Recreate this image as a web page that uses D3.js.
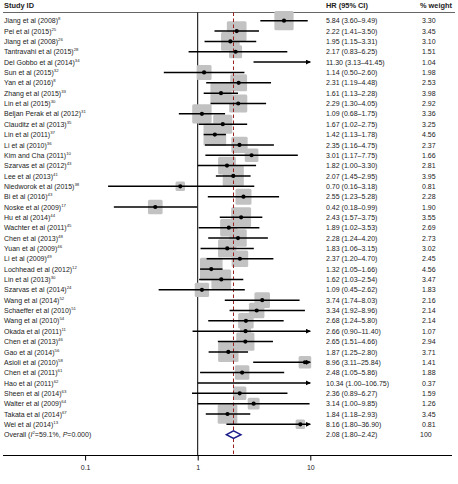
<!DOCTYPE html>
<html>
<head>
<meta charset="utf-8">
<script src="https://cdn.jsdelivr.net/npm/d3@7"></script>
<style>
  body { margin: 0; background: #fff; }
  svg text { font-family: "Liberation Sans", Arial, sans-serif; fill: #222; }
</style>
</head>
<body>
<svg id="forest" width="458" height="484"></svg>
<script>
// study data
const studies = ['Jiang et al (2008)', 'Pei et al (2015)', 'Jiang et al (2008)', 'Tantravahi et al (2015)',
    'Del Gobbo et al (2014)', 'Sun et al (2015)', 'Yan et al (2016)', 'Zhang et al (2015)', 'Lin et al (2015)',
    'Beljan Perak et al (2012)', 'Clauditz et al (2013)', 'Lin et al (2011)', 'Li et al (2010)', 'Kim and Cha (2011)',
    'Szarvas et al (2012)', 'Lee et al (2013)', 'Niedworok et al (2015)', 'Bi et al (2016)', 'Noske et al (2009)',
    'Hu et al (2014)', 'Wachter et al (2011)', 'Chen et al (2013)', 'Yuan et al (2009)', 'Li et al (2009)',
    'Lochhead et al (2012)', 'Lin et al (2013)', 'Szarvas et al (2014)', 'Wang et al (2014)', 'Schaeffer et al (2010)',
    'Wang et al (2010)', 'Okada et al (2011)', 'Chen et al (2013)', 'Gao et al (2014)', 'Asioli et al (2010)',
    'Chen et al (2011)', 'Hao et al (2011)', 'Sheen et al (2014)', 'Walter et al (2009)', 'Takata et al (2014)',
    'Wei et al (2014)'];
const refs = ['8', '25', '26', '28', '34', '32', '8', '33', '30', '31', '35', '37', '36', '10', '43', '41', '38', '43',
    '17', '44', '45', '48', '46', '49', '12', '30', '24', '52', '51', '54', '11', '46', '56', '58', '61', '62', '63',
    '64', '67', '13'];
const hr = [5.84, 2.22, 1.95, 2.17, 11.30, 1.14, 2.31, 1.61, 2.29, 1.09, 1.67, 1.42, 2.35, 3.01, 1.82, 2.07, 0.70,
    2.55, 0.42, 2.43, 1.89, 2.28, 1.83, 2.37, 1.32, 1.62, 1.09, 3.74, 3.34, 2.68, 2.66, 2.65, 1.87, 8.96, 2.48, 10.34,
    2.36, 3.14, 1.84, 8.16];
const lower = [3.60, 1.41, 1.15, 0.83, 3.13, 0.50, 1.19, 1.13, 1.30, 0.68, 1.02, 1.13, 1.16, 1.17, 1.00, 1.45, 0.16,
    1.23, 0.18, 1.57, 1.02, 1.24, 1.06, 1.20, 1.05, 1.03, 0.45, 1.74, 1.92, 1.24, 0.90, 1.51, 1.25, 3.11, 1.05, 1.00,
    0.89, 1.00, 1.18, 1.80];
const upper = [9.49, 3.50, 3.31, 6.25, 41.45, 2.60, 4.48, 2.28, 4.05, 1.75, 2.75, 1.78, 4.75, 7.75, 3.30, 2.95, 3.18,
    5.28, 0.99, 3.75, 3.53, 4.20, 3.15, 4.70, 1.66, 2.54, 2.62, 8.03, 8.96, 5.80, 11.40, 4.66, 2.80, 25.84, 5.86,
    106.75, 6.27, 9.85, 2.93, 36.90];
const weights = [3.30, 3.45, 3.10, 1.51, 1.04, 1.98, 2.53, 3.98, 2.92, 3.36, 3.25, 4.56, 2.37, 1.66, 2.81, 3.95, 0.81,
    2.28, 1.90, 3.55, 2.69, 2.73, 3.02, 2.45, 4.56, 3.47, 1.83, 2.16, 2.14, 2.14, 1.07, 2.94, 3.71, 1.41, 1.88, 0.37,
    1.59, 1.26, 3.45, 0.81];
const overall = { hr: 2.08, lower: 1.80, upper: 2.42, i2: '59.1%', p: '0.000' };
const ticks = [0.1, 1, 10];

const svg = d3.select('#forest');

let x = d3.scaleLog()
          .domain([0.1, 10])
          .range([85.1, 310.3]);

let y = d3.scaleLinear()
          .domain([0, 1])
          .range([20.7, 31.05]);

let axisY = 455.5;
let topY = 12.5;
let xMax = x(10);
let fmt = d3.format('.2f');

// arrowhead for intervals running past 10
svg.append('defs')
   .append('marker')
   .attr('id', 'arrow')
   .attr('viewBox', '0 0 10 10')
   .attr('refX', 9)
   .attr('refY', 5)
   .attr('markerWidth', 3.4)
   .attr('markerHeight', 3.4)
   .attr('orient', 'auto')
   .append('path')
   .attr('d', 'M0,0 L10,5 L0,10 z')
   .attr('fill', '#000');

// header
let header = svg.append('g').attr('font-weight', 'bold').attr('font-size', '7.4px');
header.append('text').attr('x', 4).attr('y', 8).text('Study ID');
header.append('text').attr('x', 326).attr('y', 8).text('HR (95% CI)');
header.append('text').attr('x', 420).attr('y', 8).text('% weight');

svg.append('line')
   .attr('x1', 3).attr('x2', 455)
   .attr('y1', topY).attr('y2', topY)
   .attr('stroke', '#666')
   .attr('stroke-width', 1);

// null line at HR = 1
svg.append('line')
   .attr('x1', x(1)).attr('x2', x(1))
   .attr('y1', topY).attr('y2', axisY)
   .attr('stroke', '#000')
   .attr('stroke-width', 1);

let rows = studies.map((s, i) => ({ name: s, ref: refs[i], hr: hr[i], lo: lower[i], hi: upper[i], w: weights[i], i: i }));
let visible = rows.filter(d => d.hr <= 10);

// weight boxes
svg.append('g')
   .selectAll('rect')
   .data(visible)
   .enter()
   .append('rect')
   .attr('x', d => x(d.hr) - 5.3 * Math.sqrt(d.w))
   .attr('y', d => y(d.i) - 5.3 * Math.sqrt(d.w))
   .attr('width', d => 10.6 * Math.sqrt(d.w))
   .attr('height', d => 10.6 * Math.sqrt(d.w))
   .attr('rx', 1.5)
   .attr('fill', '#c2c2c2');

// overall dashed line
svg.append('line')
   .attr('x1', x(overall.hr)).attr('x2', x(overall.hr))
   .attr('y1', topY).attr('y2', axisY)
   .attr('stroke', '#9b2020')
   .attr('stroke-width', 1)
   .attr('stroke-dasharray', '3.5,2.5');

// confidence intervals
svg.append('g')
   .selectAll('line')
   .data(rows)
   .enter()
   .append('line')
   .attr('x1', d => x(d.lo))
   .attr('x2', d => Math.min(x(d.hi), xMax))
   .attr('y1', d => y(d.i))
   .attr('y2', d => y(d.i))
   .attr('stroke', '#000')
   .attr('stroke-width', 1.5)
   .attr('marker-end', d => d.hi > 10 ? 'url(#arrow)' : null);

// point estimates
svg.append('g')
   .selectAll('circle')
   .data(visible)
   .enter()
   .append('circle')
   .attr('cx', d => x(d.hr))
   .attr('cy', d => y(d.i))
   .attr('r', 2.1)
   .attr('fill', '#000');

// overall diamond
let oy = y(studies.length);
svg.append('path')
   .attr('d', `M${x(overall.lower)},${oy} L${x(overall.hr)},${oy - 3.8} L${x(overall.upper)},${oy} L${x(overall.hr)},${oy + 3.8} Z`)
   .attr('fill', '#fff')
   .attr('stroke', '#1c1c8a')
   .attr('stroke-width', 1.5);

// row labels
let labels = svg.append('g').attr('font-size', '7px');

let names = labels.selectAll('.name')
                  .data(rows)
                  .enter()
                  .append('text')
                  .attr('class', 'name')
                  .attr('x', 4)
                  .attr('y', d => y(d.i) + 2.6);
names.append('tspan').text(d => d.name);
names.append('tspan')
     .attr('font-size', '4.3px')
     .attr('dy', -3)
     .text(d => d.ref);

labels.selectAll('.ci')
      .data(rows)
      .enter()
      .append('text')
      .attr('class', 'ci')
      .attr('x', 326)
      .attr('y', d => y(d.i) + 2.6)
      .text(d => `${fmt(d.hr)} (${fmt(d.lo)}\u2013${fmt(d.hi)})`);

labels.selectAll('.wt')
      .data(rows)
      .enter()
      .append('text')
      .attr('class', 'wt')
      .attr('x', 422)
      .attr('y', d => y(d.i) + 2.6)
      .text(d => fmt(d.w));

let ov = labels.append('text').attr('x', 4).attr('y', oy + 2.6);
ov.append('tspan').text('Overall (');
ov.append('tspan').attr('font-style', 'italic').text('I');
ov.append('tspan').attr('font-size', '4.3px').attr('dy', -3).text('2');
ov.append('tspan').attr('dy', 3).text(`=${overall.i2}, `);
ov.append('tspan').attr('font-style', 'italic').text('P');
ov.append('tspan').text(`=${overall.p})`);

labels.append('text')
      .attr('x', 326).attr('y', oy + 2.6)
      .text(`${fmt(overall.hr)} (${fmt(overall.lower)}\u2013${fmt(overall.upper)})`);
labels.append('text')
      .attr('x', 420).attr('y', oy + 2.6)
      .text('100');

// x axis
svg.append('line')
   .attr('x1', 3).attr('x2', 452)
   .attr('y1', axisY).attr('y2', axisY)
   .attr('stroke', '#000')
   .attr('stroke-width', 1.2);

let axis = svg.append('g')
              .attr('transform', `translate(0,${axisY})`)
              .call(d3.axisBottom(x)
                      .tickValues(ticks)
                      .tickFormat(d3.format('~g'))
                      .tickSize(5)
                      .tickSizeOuter(0));
axis.select('.domain').remove();
axis.selectAll('.tick line').attr('stroke', '#000').attr('stroke-width', 1);
axis.selectAll('.tick text')
    .attr('font-family', '"Liberation Sans", Arial, sans-serif')
    .attr('font-size', '7px')
    .attr('fill', '#222')
    .attr('dy', '0.95em');
</script>
</body>
</html>
